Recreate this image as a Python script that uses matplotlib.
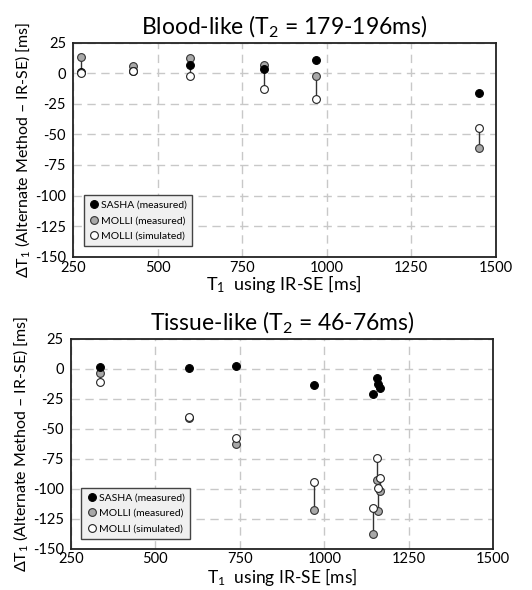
import matplotlib
matplotlib.use("Agg")
import matplotlib.pyplot as plt
from matplotlib.ticker import FixedLocator, FixedFormatter

plt.rcParams['font.family'] = ['Lato', 'DejaVu Sans']
plt.rcParams['mathtext.fontset'] = 'custom'
plt.rcParams['mathtext.rm'] = 'Lato'
plt.rcParams['mathtext.it'] = 'Lato'

# ---- Data: Blood-like ----
blood_t1 = [275, 428, 595, 815, 968, 1452]
blood_sasha = [1, 2, 7, 3.5, 11, -16.5]
blood_molli_meas = [13, 6, 12.5, 7, -2, -61]
blood_molli_sim = [0.5, 1.5, -2.2, -12.5, -21, -45]

# ---- Data: Tissue-like ----
tissue_t1 = [338, 600, 740, 970, 1145, 1155, 1159, 1166]
tissue_sasha = [2, 0.8, 2.7, -13.6, -21.2, -7.1, -12.6, -15.8]
tissue_molli_meas = [-3.3, -41, -62.8, -117.3, -137.3, -92.2, -118.2, -101.9]
tissue_molli_sim = [-11, -40, -57.5, -94.5, -116, -74.5, -99.4, -90.6]

xticks = [250, 500, 750, 1000, 1250, 1500]
yticks = [-150, -125, -100, -75, -50, -25, 0, 25]
xtick_labels = ['250', '500', '750', '1000', '1250', '1500']
ytick_labels = ['-150', '-125', '-100', '-75', '-50', '-25', '0', '25']

titles = ['Blood-like (T$_2$ = 179-196ms)', 'Tissue-like (T$_2$ = 46-76ms)']
legend_labels = ['SASHA (measured)', 'MOLLI (measured)', 'MOLLI (simulated)']

fig = plt.figure(figsize=(5.32, 5.90), dpi=100)
ax1 = fig.add_axes([73/532, 1 - 256.7/590, 422.5/532, 214/590])
ax2 = fig.add_axes([70.7/532, 1 - 549/590, 422.6/532, 210/590])

gray = '#a8a8a8'
ms = 5.6

def draw(ax, t1, sasha, mm, ms_sim, title, xlabelpad, xpad, xlabelsize):
    ax.set_xlim(250, 1500)
    ax.set_ylim(-150, 25)
    ax.xaxis.set_major_locator(FixedLocator(xticks))
    ax.xaxis.set_major_formatter(FixedFormatter(xtick_labels))
    ax.yaxis.set_major_locator(FixedLocator(yticks))
    ax.yaxis.set_major_formatter(FixedFormatter(ytick_labels))
    ax.grid(True, color='#c8c8c8', linestyle=(0, (6, 4)), linewidth=1.0)
    ax.set_axisbelow(True)
    ax.tick_params(length=0, labelsize=10.5)
    ax.tick_params(axis='x', pad=xpad)
    ax.tick_params(axis='y', pad=5)
    for s in ax.spines.values():
        s.set_linewidth(1.3)
        s.set_color('#222222')
    ax.vlines(t1, mm, ms_sim, color='#333333', linewidth=1.0, zorder=2)
    ax.plot(t1, mm, 'o', ms=ms, mfc=gray, mec='#333333', mew=0.8, ls='none', zorder=3, label=legend_labels[1])
    ax.plot(t1, sasha, 'o', ms=ms, mfc='black', mec='black', mew=0.8, ls='none', zorder=4, label=legend_labels[0])
    ax.plot(t1, ms_sim, 'o', ms=ms, mfc='white', mec='#222222', mew=0.8, ls='none', zorder=5, label=legend_labels[2])
    ax.set_title(title, fontsize=16.5, pad=6)
    ax.set_xlabel('T$_1$  using IR-SE [ms]', fontsize=xlabelsize, labelpad=xlabelpad)
    ax.set_ylabel('ΔT$_1$ (Alternate Method – IR-SE) [ms]', fontsize=11.5, labelpad=2)
    h, l = ax.get_legend_handles_labels()
    order = [1, 0, 2]
    leg = ax.legend([h[i] for i in order], [l[i] for i in order], loc='lower left',
                    bbox_to_anchor=(0.025, 0.05), fontsize=7.5, fancybox=False,
                    framealpha=1, facecolor='#f0f0f0', edgecolor='#444444',
                    handletextpad=0.2, borderpad=0.5, labelspacing=0.6,
                    handlelength=1.0, borderaxespad=0)
    leg.get_frame().set_linewidth(1.0)

draw(ax1, blood_t1, blood_sasha, blood_molli_meas, blood_molli_sim, titles[0], -1, 3, 13)
draw(ax2, tissue_t1, tissue_sasha, tissue_molli_meas, tissue_molli_sim, titles[1], 0, 2, 12.5)

fig.savefig('out.png', dpi=100)
